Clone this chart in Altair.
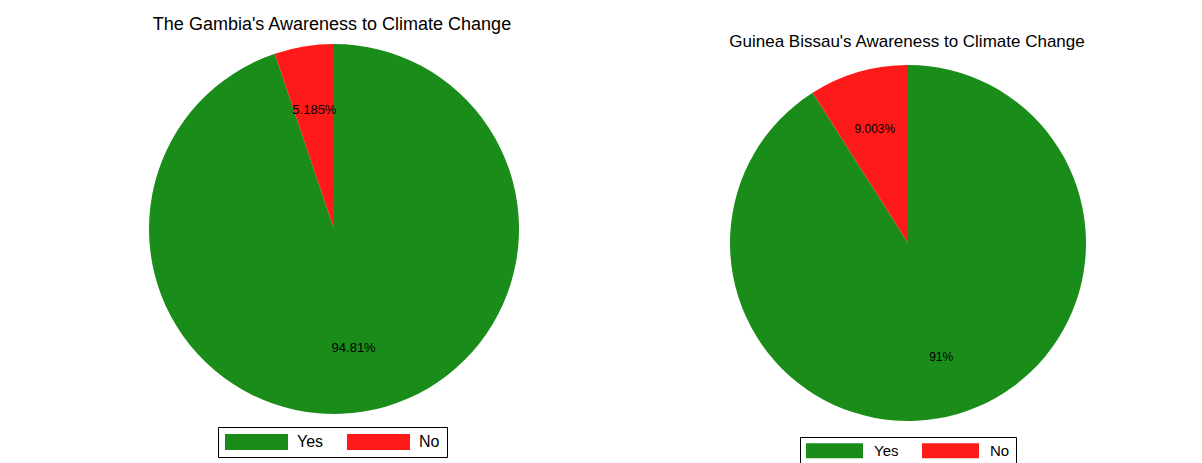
import altair as alt
import pandas as pd

# Survey answers and the share (%) of respondents giving each one
answers = ["Yes", "No"]
gambia_share = [94.8148, 5.1852]
bissau_share = [90.997, 9.003]
slice_colors = ["#1a8c1a", "#ff1a1a"]

FONT = "Liberation Sans"
PANEL_H = 463


def bar_symbol(w, h):
    """Legend key drawn as a w x h bar, left-aligned with the entry start."""
    right = -1 + 2 * w / h
    return f"M-1,-1H{right:.4f}V1H-1Z"


def pie_panel(title, shares, width, cx, cy, r, label_r, title_x, title_y,
              title_size, label_size, legend_x, legend_y, sym_w, sym_h,
              legend_size, label_gap, legend_pad, grid_align):
    df = pd.DataFrame({"answer": answers, "share": shares,
                       "rank": list(range(len(answers)))})
    base = alt.Chart(df).transform_calculate(
        label="format(datum.share, '.4~r') + '%'"
    )
    theta = alt.Theta("share:Q", stack=True)
    order = alt.Order("rank:Q")

    color = alt.Color(
        "answer:N",
        scale=alt.Scale(domain=answers, range=slice_colors),
        legend=alt.Legend(
            title=None,
            orient="none",
            legendX=legend_x,
            legendY=legend_y,
            direction="horizontal",
            columns=2,
            gridAlign=grid_align,
            symbolType=bar_symbol(sym_w, sym_h),
            symbolSize=sym_h * sym_h,
            symbolStrokeWidth=0,
            symbolOpacity=1,
            labelOffset=sym_w - sym_h + label_gap,
            labelFont=FONT,
            labelFontSize=legend_size,
            labelColor="black",
            columnPadding=23,
            padding=legend_pad,
            strokeColor="black",
            fillColor="white",
            cornerRadius=0,
        ),
    )

    slices = base.mark_arc(radius=r, x=cx, y=cy).encode(
        theta=theta, color=color, order=order
    )
    labels = base.mark_text(
        radius=label_r, x=cx, y=cy, font=FONT, fontSize=label_size,
        color="black", align="center", baseline="middle"
    ).encode(theta=theta, text="label:N", order=order)

    heading = alt.Chart(pd.DataFrame({"title": [title]})).mark_text(
        x=title_x, y=title_y, font=FONT, fontSize=title_size, color="black",
        align="center", baseline="alphabetic"
    ).encode(text="title:N")

    return alt.layer(heading, slices, labels).properties(width=width, height=PANEL_H)


gambia = pie_panel(
    "The Gambia's Awareness to Climate Change", gambia_share,
    width=600, cx=334, cy=229, r=185, label_r=121, title_x=332, title_y=30,
    title_size=18, label_size=13, legend_x=218, legend_y=427, sym_w=63,
    sym_h=16, legend_size=16, label_gap=9, legend_pad=7, grid_align="all",
)
bissau = pie_panel(
    "Guinea Bissau's Awareness to Climate Change", bissau_share,
    width=602, cx=308, cy=243, r=178, label_r=119, title_x=307, title_y=47,
    title_size=17, label_size=12, legend_x=200, legend_y=437, sym_w=57,
    sym_h=15, legend_size=15, label_gap=11, legend_pad=6, grid_align="each",
)

chart = (
    alt.hconcat(gambia, bissau, spacing=0)
    .resolve_scale(color="independent")
    .resolve_legend(color="independent")
    .properties(padding=0, background="white")
    .configure_view(stroke=None)
)

chart.save("out.html", embed_options={"renderer": "svg", "actions": False})
